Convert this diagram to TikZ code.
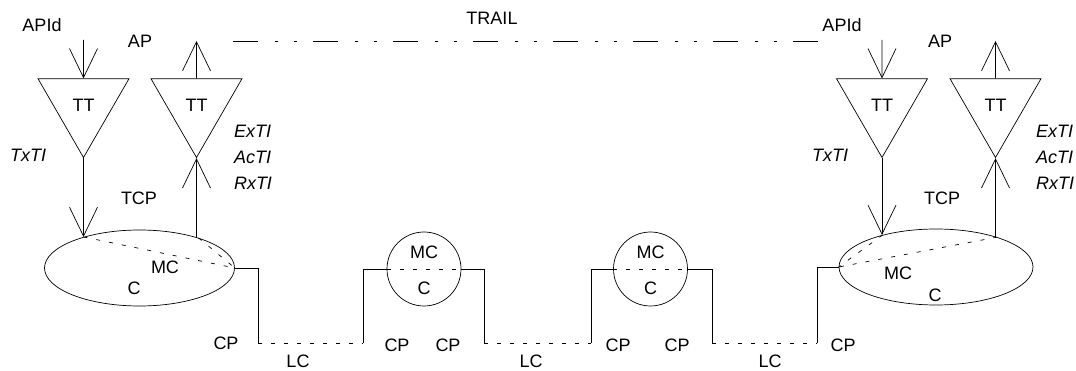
\documentclass[tikz,border=0pt]{standalone}
\usepackage{fontspec}
\setmainfont{Liberation Sans}
\usetikzlibrary{shapes.geometric,arrows.meta}
\newcommand{\lblfont}{\fontsize{18}{26}\selectfont}
\tikzstyle{term} = [regular polygon, regular polygon sides=3,
    shape border rotate=180, draw, minimum size=105pt, inner sep=0pt]
\tikzstyle{conn} = [ellipse, draw, minimum width=190pt, minimum height=76pt]
\tikzstyle{subnet} = [circle, draw, minimum size=74pt]
\tikzstyle{line} = [draw, -{Straight Barb[length=29pt, width=28pt]}]
\tikzstyle{link} = [draw, dash pattern=on 4pt off 9pt]
\tikzstyle{trail} = [draw, dash pattern=on 25pt off 17pt on 3pt off 16pt on 3pt off 16pt]
\tikzstyle{lbl} = [inner sep=0pt]
\tikzstyle{ti} = [lbl, font=\lblfont\itshape, align=left]

\begin{document}
\begin{tikzpicture}[x=1pt, y=-1pt, line width=0.7pt, font=\lblfont]
  \useasboundingbox (0,0) rectangle (1076,371);
  \node [term] (TTa) at (83.5,105) {TT};
  \node [term] (TTb) at (196.5,105) {TT};
  \node [term] (TTc) at (882,105) {TT};
  \node [term] (TTd) at (995.5,105) {TT};
  \node [conn] (Ea) at (139.5,268) {};
  \node [conn, minimum width=194pt] (Eb) at (936,267) {};
  \node [subnet] (Ma) at (424,269) {};
  \node [subnet] (Mb) at (650.5,269) {};
  %
  \coordinate (apa) at (83.5,40);
  \coordinate (apb) at (196.5,41);
  \coordinate (apc) at (882,40);
  \coordinate (apd) at (995.5,41);
  \coordinate (ea1) at (Ea.151.6);
  \coordinate (ea2) at (Ea.27.8);
  \coordinate (eb1) at (Eb.149.7);
  \coordinate (eb2) at (Eb.26.8);
  \coordinate (cpa) at (258,343);
  \coordinate (cpb) at (363,343);
  \coordinate (cpc) at (484,343);
  \coordinate (cpd) at (591,343);
  \coordinate (cpe) at (712,343);
  \coordinate (cpf) at (817,343);
  \coordinate (ta) at (233,41);
  \coordinate (tb) at (818,41);
  %
  \path [line] (apa) -- (TTa.north);
  \path [line] (TTa.south) -- (TTa.south |- ea1);
  \path [line] (TTb.north) -- (apb);
  \path [line] (TTb.south |- ea2) -- (TTb.south);
  \path [line] (apc) -- (TTc.north);
  \path [line] (TTc.south) -- (TTc.south |- eb1);
  \path [line] (TTd.north) -- (apd);
  \path [line] (TTd.south |- eb2) -- (TTd.south);
  %
  \path [link] (ea1) -- (Ea.east);
  \path [link] (ea2) -- (Ea.east);
  \path [link] (eb1) -- (Eb.west);
  \path [link] (eb2) -- (Eb.west);
  \path [link] (Ma.west) -- (Ma.east);
  \path [link] (Mb.west) -- (Mb.east);
  %
  \draw (Ea.east) -| (cpa);
  \path [link] (cpa) -- (cpb);
  \draw (cpb) |- (Ma.west);
  \draw (Ma.east) -| (cpc);
  \path [link] (cpc) -- (cpd);
  \draw (cpd) |- (Mb.west);
  \draw (Mb.east) -| (cpe);
  \path [link] (cpe) -- (cpf);
  \draw (cpf) |- (Eb.west);
  \path [trail] (ta) -- (tb);
  %
  \node [lbl] (trl) at (492,18) {TRAIL};
  \node [lbl] (idA) at (42,25) {APId};
  \node [lbl] (apA) at (140,41) {AP};
  \node [lbl] (idB) at (842,25) {APId};
  \node [lbl] (apB) at (940,41) {AP};
  \node [ti] (txA) at (28,155) {TxTI};
  \node [ti] (txB) at (830,155) {TxTI};
  \node [ti] (rxA) at (253,157) {ExTI\\AcTI\\RxTI};
  \node [ti] (rxB) at (1055,157) {ExTI\\AcTI\\RxTI};
  \node [lbl] (tcA) at (139,198) {TCP};
  \node [lbl] (tcB) at (942,198) {TCP};
  %
  \node [lbl] (mcA) at (165,267) {MC};
  \node [lbl] (cA) at (134,288) {C};
  \node [lbl] (mcB) at (898,273) {MC};
  \node [lbl] (cB) at (935,295) {C};
  \node [lbl] (mcM) at (424,252) {MC};
  \node [lbl] (cM) at (424,288) {C};
  \node [lbl] (mcN) at (650.5,252) {MC};
  \node [lbl] (cN) at (650.5,288) {C};
  %
  \node [lbl] (cp1) at (226,343) {CP};
  \node [lbl] (cp2) at (397,345) {CP};
  \node [lbl] (cp3) at (448,345) {CP};
  \node [lbl] (cp4) at (618,345) {CP};
  \node [lbl] (cp5) at (677,345) {CP};
  \node [lbl] (cp6) at (843,345) {CP};
  \node [lbl] (lc1) at (298,361) {LC};
  \node [lbl] (lc2) at (531,361) {LC};
  \node [lbl] (lc3) at (770,361) {LC};
\end{tikzpicture}
\end{document}
